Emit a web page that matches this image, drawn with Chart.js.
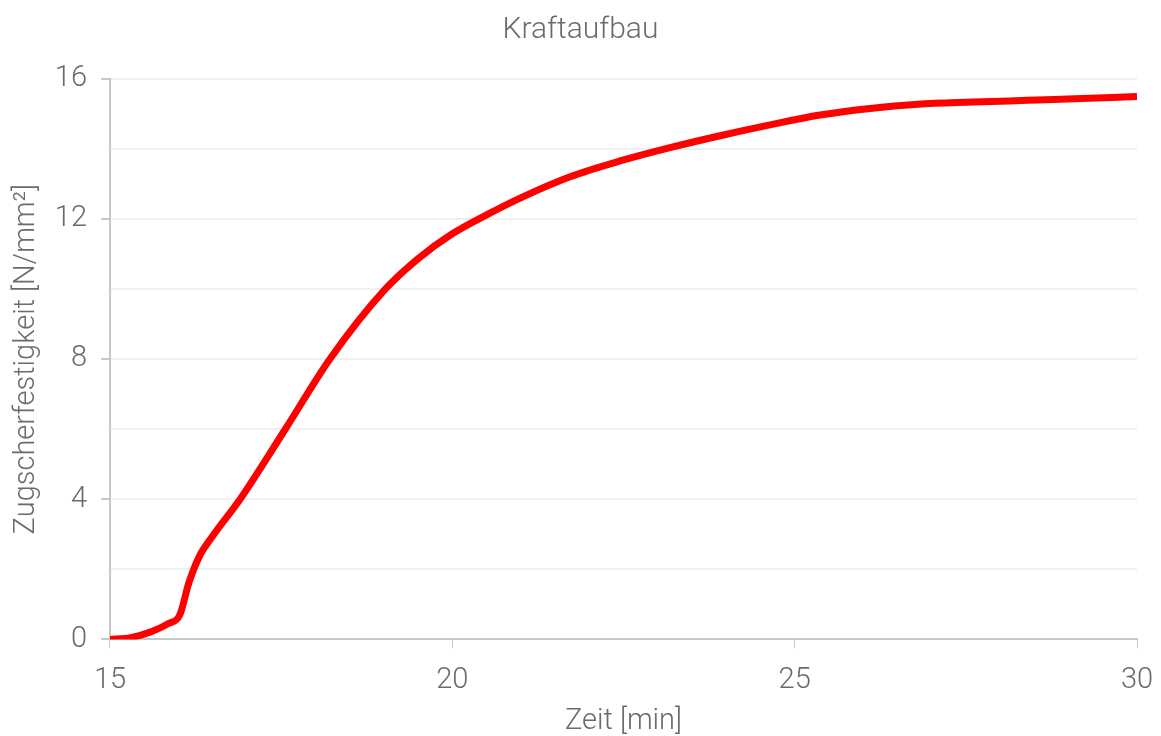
<!DOCTYPE html>
<html>
<head>
<meta charset="utf-8">
<script src="https://cdn.jsdelivr.net/npm/chart.js@4/dist/chart.umd.min.js"></script>
<style>
    html, body { margin: 0; padding: 0; background: #fff; }
    #wrap { width: 1161px; height: 736px; }
</style>
</head>
<body>
<div id="wrap"><canvas id="kraftChart" width="1161" height="736"></canvas></div>
<script>
// Data
const zeit = [15, 15.3, 15.6, 15.85, 16.02, 16.15, 16.3, 16.5, 16.9, 17.56, 18.21, 19.02, 19.5, 20.0, 20.5,
    20.99, 21.72, 22.45, 23.18, 23.91, 24.64, 25.37, 26.1, 26.8, 27.6, 28.4, 29.2, 30];
const festigkeit = [0, 0.05, 0.22, 0.45, 0.7, 1.6, 2.35, 2.95, 4.0, 6.0, 8.0, 10.0, 10.87, 11.58, 12.12,
    12.6, 13.21, 13.66, 14.04, 14.38, 14.69, 14.97, 15.16, 15.28, 15.34, 15.39, 15.44, 15.5];
const xTicks = [15, 20, 25, 30];
const yLabelled = [0, 4, 8, 12, 16];

const textGray = '#6b6b6b';
const axisGray = '#c8c8c8';
const gridGray = '#efefef';
const font = { family: 'Roboto', size: 29, weight: 300 };

const ctx = document.getElementById('kraftChart').getContext('2d');
new Chart(ctx, {
    type: 'line',
    data: {
        datasets: [{
            label: 'Kraftaufbau',
            data: zeit.map((t, i) => ({ x: t, y: festigkeit[i] })),
            borderColor: '#ff0000',
            borderWidth: 7,
            pointRadius: 0,
            fill: false,
            cubicInterpolationMode: 'monotone'
        }]
    },
    options: {
        responsive: false,
        animation: false,
        layout: { padding: { top: 4, right: 4, left: 4, bottom: 0 } },
        plugins: {
            legend: { display: false },
            tooltip: { enabled: false },
            title: {
                display: true,
                text: 'Kraftaufbau',
                color: textGray,
                font: { family: 'Roboto', size: 30, weight: 300 },
                padding: { top: 8, bottom: 31 }
            }
        },
        scales: {
            x: {
                type: 'linear',
                min: 15,
                max: 30,
                afterBuildTicks: axis => { axis.ticks = xTicks.map(v => ({ value: v })); },
                // keep the plot's right edge where the reference has it
                afterFit: axis => { axis.paddingRight = 24; },
                grid: {
                    drawOnChartArea: false,
                    color: axisGray,
                    tickLength: 9
                },
                border: { color: axisGray, width: 2 },
                ticks: { color: textGray, font: font, padding: 15, maxRotation: 0 },
                title: {
                    display: true,
                    text: 'Zeit [min]',
                    color: textGray,
                    font: font,
                    padding: { top: -9, bottom: -3 }
                }
            },
            y: {
                min: 0,
                max: 16,
                ticks: {
                    stepSize: 2,
                    color: textGray,
                    font: font,
                    padding: 14,
                    callback: v => yLabelled.includes(v) ? v : ''
                },
                grid: {
                    color: gridGray,
                    lineWidth: 2,
                    tickLength: 9,
                    tickColor: c => yLabelled.includes(c.tick.value) ? axisGray : 'rgba(0,0,0,0)'
                },
                border: { color: axisGray, width: 2 },
                title: {
                    display: true,
                    text: 'Zugscherfestigkeit [N/mm²]',
                    color: textGray,
                    font: font,
                    padding: { top: 5, bottom: -3 }
                }
            }
        }
    }
});
</script>
</body>
</html>
